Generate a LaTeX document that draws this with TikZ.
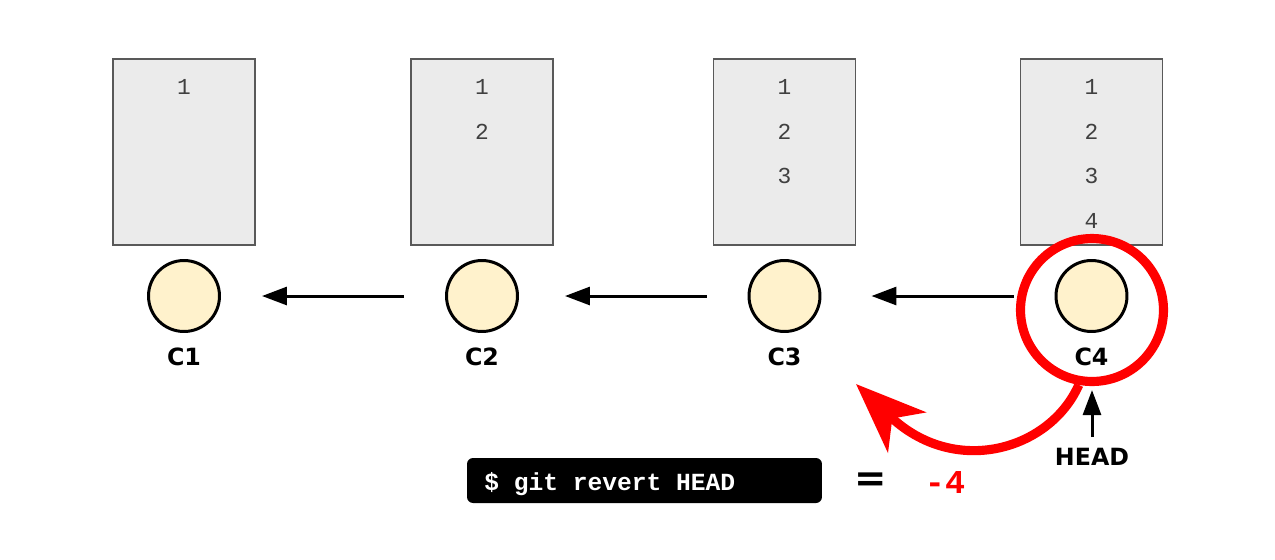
\documentclass[tikz,border=0pt]{standalone}
\usepackage{fontspec}
\usetikzlibrary{arrows.meta}
\newfontfamily\lblfont{DejaVu Sans}
\newfontfamily\codefont{Liberation Mono}
\definecolor{boxgray}{HTML}{EBEBEB}
\definecolor{edgegray}{HTML}{595959}
\definecolor{commitfill}{HTML}{FFF2CC}
\definecolor{revertred}{HTML}{FF0000}

\begin{document}
\begin{tikzpicture}[x=0.02cm, y=-0.02cm,
	filebox/.style={draw=edgegray, fill=boxgray, line width=1.1pt, minimum width=2.84cm, minimum height=3.72cm},
	commit/.style={circle, draw, fill=commitfill, line width=1.7pt, minimum size=1.42cm, inner sep=0pt},
	clabel/.style={font=\lblfont\bfseries\fontsize{13.5}{15}\selectfont},
	lineno/.style={font=\codefont\fontsize{13}{15}\selectfont, text=black!75},
	parent/.style={-{Triangle[length=0.5cm, width=0.36cm]}, line width=1.7pt}]
	\useasboundingbox (0,0) rectangle (1275,559);
	
	% one file snapshot and one commit per column
	\foreach \i/\x in {1/184, 2/482, 3/784.5, 4/1091.5} {
		\node[filebox] (box\i) at (\x,152) {};
		\node[commit] (c\i) at (\x,296) {};
		\node[clabel] (l\i) at (\x,357) {C\i};
		\foreach \j in {1,...,\i}
			\node[lineno] (n\i\j) at (\x,{87+44.5*(\j-1)}) {\j};
	}
	
	% parent links
	\foreach \a/\b/\gap in {2/1/0.82cm, 3/2/0.92cm, 4/3/1cm}
		\draw[parent, shorten <=0.82cm, shorten >=\gap] (c\a) -- (c\b);
	
	\node[circle, draw=revertred, line width=5.2pt, minimum size=2.86cm] (ring) at (1092,310) {};
	\coordinate (back) at (856,384);
	\draw[revertred, line width=5.2pt, -{Stealth[length=1.4cm, width=1.1cm, inset=0.4cm]}] (ring.-100) .. controls (1050,450) and (955,478) .. (back);
	
	\node[clabel] (head) at (1092,457) {HEAD};
	\draw[parent, shorten <=0.1cm, shorten >=0.08cm] (head) -- (ring);
	
	\node[fill=black, rounded corners=0.12cm, minimum width=7.1cm, minimum height=0.9cm] (cmd) at (644.5,480.5) {};
	\node[anchor=base west, font=\codefont\bfseries\fontsize{14}{16}\selectfont, text=white, inner sep=0pt] (cmdtext) at (484,490) {\$ git revert HEAD};
	\node[font=\lblfont\bfseries\fontsize{22}{24}\selectfont] (eq) at (871,482) {=};
	\node[font=\codefont\bfseries\fontsize{19}{21}\selectfont, text=revertred] (minus) at (945,482) {-4};
\end{tikzpicture}
\end{document}
